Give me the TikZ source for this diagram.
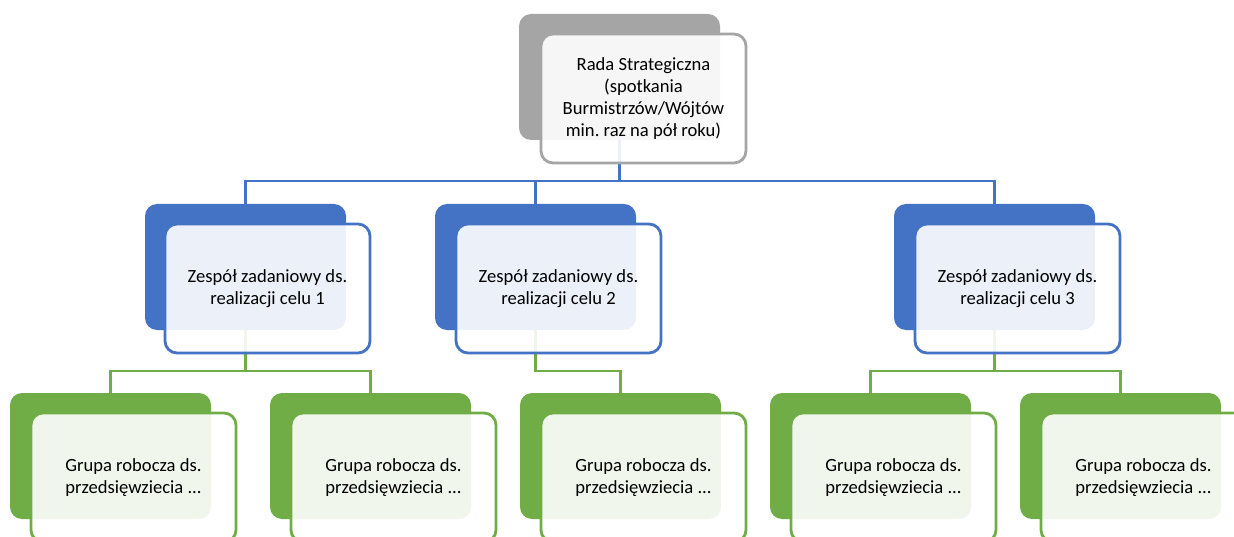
\documentclass[tikz,border=0pt]{standalone}
\usepackage{fontspec}
\setmainfont{Carlito}
\frenchspacing
\definecolor{cblue}{HTML}{4472C4}
\definecolor{cgreen}{HTML}{70AD47}
\definecolor{cgray}{HTML}{A5A5A5}
\begin{document}
\begin{tikzpicture}[x=1pt,y=-1pt,
  back/.style={rounded corners=12pt, fill=#1, draw=none, minimum width=201pt, minimum height=126pt, anchor=north west, inner sep=0pt, outer sep=0pt},
  front/.style={rounded corners=12pt, draw=#1, line width=2.8pt, fill=white, fill opacity=0.9, text opacity=1, minimum width=205pt, minimum height=129pt, anchor=north west, inner sep=0pt, outer sep=0pt, font=\fontsize{18.6pt}{21.7pt}\selectfont},
  conn/.style={draw=#1, line width=2.8pt}]
\clip (0,0) rectangle (1234,537);
\useasboundingbox (0,0) rectangle (1234,537);
\coordinate (busA) at (0,181);
\coordinate (busB) at (0,371);
% back boxes
\node[back=cgray] (tb) at (519,14) {};
\node[back=cblue] (b1) at (145,204) {};
\node[back=cblue] (b2) at (435,204) {};
\node[back=cblue] (b3) at (894,204) {};
\node[back=cgreen] (g1) at (10,393) {};
\node[back=cgreen] (g2) at (270,393) {};
\node[back=cgreen] (g3) at (520,393) {};
\node[back=cgreen] (g4) at (770,393) {};
\node[back=cgreen] (g5) at (1020,393) {};
% connectors
\draw[conn=cblue] (tb.south) -- (tb.south|-busA) -| (b1.north);
\draw[conn=cblue] (tb.south|-busA) -| (b2.north);
\draw[conn=cblue] (tb.south|-busA) -| (b3.north);
\draw[conn=cgreen] (b1.south) -- (b1.south|-busB) -| (g1.north);
\draw[conn=cgreen] (b1.south|-busB) -| (g2.north);
\draw[conn=cgreen] (b2.south) -- (b2.south|-busB) -| (g3.north);
\draw[conn=cgreen] (b3.south) -- (b3.south|-busB) -| (g4.north);
\draw[conn=cgreen] (b3.south|-busB) -| (g5.north);
% front boxes
\node[front=cgray, align=center] (tf) at (541,34) {Rada Strategiczna\\(spotkania\\Burmistrzów/Wójtów\\min. raz na pół roku)};
\node[front=cblue, align=center] (f1) at (165,224) {Zespół zadaniowy ds.\\realizacji celu 1};
\node[front=cblue, align=center] (f2) at (456,224) {Zespół zadaniowy ds.\\realizacji celu 2};
\node[front=cblue, align=center] (f3) at (915,224) {Zespół zadaniowy ds.\\realizacji celu 3};
\node[front=cgreen, align=left] (h1) at (31,413) {Grupa robocza ds.\\przedsięwziecia ...};
\node[front=cgreen, align=left] (h2) at (291,413) {Grupa robocza ds.\\przedsięwziecia ...};
\node[front=cgreen, align=left] (h3) at (541,413) {Grupa robocza ds.\\przedsięwziecia ...};
\node[front=cgreen, align=left] (h4) at (791,413) {Grupa robocza ds.\\przedsięwziecia ...};
\node[front=cgreen, align=left] (h5) at (1041,413) {Grupa robocza ds.\\przedsięwziecia ...};
\end{tikzpicture}
\end{document}
